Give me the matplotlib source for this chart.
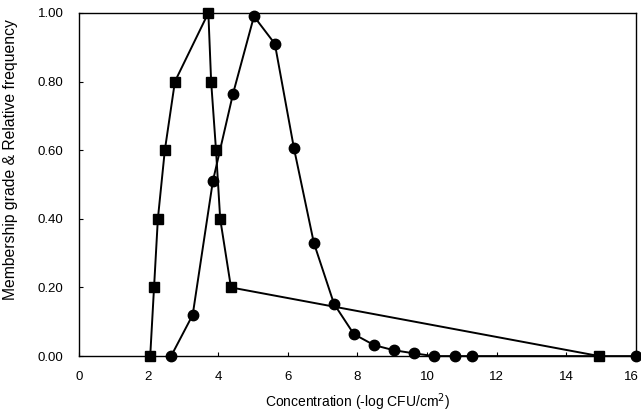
import matplotlib
matplotlib.use("Agg")
import matplotlib.pyplot as plt
from matplotlib.transforms import ScaledTranslation

plt.rcParams['font.family'] = ['Liberation Sans', 'DejaVu Sans']

# membership grade (squares)
mem_x = [2.05, 2.16, 2.27, 2.47, 2.76, 3.72, 3.8, 3.94, 4.06, 4.37, 14.95]
mem_y = [0.0, 0.2, 0.4, 0.6, 0.8, 1.0, 0.8, 0.6, 0.4, 0.2, 0.0]

# relative frequency (circles)
freq_x = [2.65, 3.27, 3.85, 4.43, 5.03, 5.63, 6.18, 6.75, 7.33, 7.9,
          8.48, 9.05, 9.63, 10.2, 10.8, 11.3, 16.0]
freq_y = [0.0, 0.12, 0.51, 0.765, 0.99, 0.91, 0.605, 0.33, 0.152, 0.064,
          0.032, 0.017, 0.008, 0.0, 0.0, 0.0, 0.0]

fig = plt.figure(figsize=(6.41, 4.16), dpi=100)
ax = fig.add_axes([0.123, 0.144, 0.869, 0.825])

ax.plot(mem_x, mem_y, color='black', lw=1.4, marker='s', ms=7, clip_on=False, zorder=3)
ax.plot(freq_x, freq_y, color='black', lw=1.4, marker='o', ms=7.5, clip_on=False, zorder=3)

ax.set_xlim(0, 16)
ax.set_ylim(0, 1.0)
ax.set_xticks(range(0, 17, 2))
ax.set_yticks([0, 0.2, 0.4, 0.6, 0.8, 1.0])
ax.set_yticklabels(['%.2f' % v for v in [0, 0.2, 0.4, 0.6, 0.8, 1.0]])
ax.tick_params(direction='in', length=3, labelsize=9.5)
ax.tick_params(axis='x', pad=11)
ax.tick_params(axis='y', pad=11)
for s in ax.spines.values():
    s.set_linewidth(1.0)

# keep the last x label inside the picture
last = ax.get_xticklabels()[-1]
last.set_transform(last.get_transform() + ScaledTranslation(-4 / 100, 0, fig.dpi_scale_trans))

ax.set_xlabel('Concentration (-log CFU/cm$^2$)', fontsize=10, labelpad=6)
ax.set_ylabel('Membership grade & Relative frequency', fontsize=11.3)
ax.yaxis.set_label_coords(-0.11, 0.574)

fig.savefig('out.png', dpi=100)
